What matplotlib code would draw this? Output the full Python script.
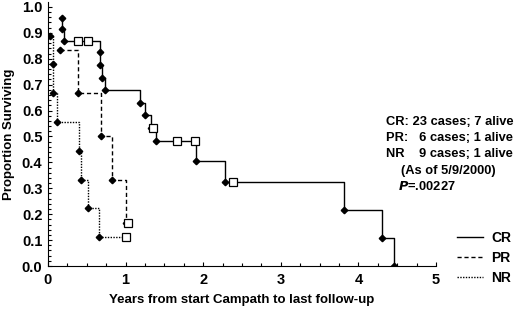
import numpy as np
import matplotlib
matplotlib.use("Agg")
import matplotlib.pyplot as plt
from matplotlib.ticker import MultipleLocator

plt.rcParams['font.family'] = ['Liberation Sans', 'DejaVu Sans']
plt.rcParams['font.weight'] = 'bold'

# Kaplan-Meier curves (event times / survival after event)
cr_t = [0.18, 0.18, 0.21, 0.67, 0.67, 0.70, 0.74, 1.19, 1.25, 1.33, 1.39, 1.91, 2.28, 3.82, 4.30, 4.46]
cr_s = [0.957, 0.913, 0.870, 0.825, 0.776, 0.727, 0.680, 0.631, 0.583, 0.534, 0.483, 0.405, 0.324, 0.216, 0.108, 0.0]
cr_cens_t = [0.39, 0.51, 1.35, 1.66, 1.89, 2.38]
cr_cens_s = [0.870, 0.870, 0.534, 0.483, 0.483, 0.324]

pr_t = [0.155, 0.39, 0.68, 0.83, 1.00]
pr_s = [0.833, 0.667, 0.500, 0.333, 0.167]
pr_cens_t = [1.035]
pr_cens_s = [0.167]

nr_t = [0.03, 0.07, 0.07, 0.11, 0.40, 0.42, 0.51, 0.66]
nr_s = [0.889, 0.778, 0.667, 0.556, 0.444, 0.333, 0.222, 0.111]
nr_cens_t = [1.00]
nr_cens_s = [0.111]

summary = ["CR: 23 cases; 7 alive", "PR:   6 cases; 1 alive", "NR    9 cases; 1 alive"]


def step_xy(t, s, end_t=None):
    xs, ys = [t[0]], [s[0]]
    for i in range(1, len(t)):
        xs += [t[i], t[i]]
        ys += [s[i - 1], s[i]]
    if end_t is not None:
        xs.append(end_t)
        ys.append(s[-1])
    return xs, ys


fig = plt.figure(figsize=(5.2, 3.1), dpi=100)
ax = fig.add_axes([48 / 520, 1 - 266 / 310, 388 / 520, 264 / 310])

styles = [
    (cr_t, cr_s, cr_cens_t, cr_cens_s, '-', 'CR'),
    (pr_t, pr_s, pr_cens_t, pr_cens_s, (0, (3, 2)), 'PR'),
    (nr_t, nr_s, nr_cens_t, nr_cens_s, (0, (1, 1)), 'NR'),
]
handles = []
for t, s, ct, cs, ls, lab in styles:
    end = max(ct) if ct else None
    if end is not None and end < t[-1]:
        end = None
    xs, ys = step_xy(t, s, end)
    h, = ax.plot(xs, ys, color='black', lw=1.0, linestyle=ls, label=lab)
    handles.append(h)
    ax.plot(t, s, linestyle='none', marker='D', ms=3.3, color='black')
    ax.plot(ct, cs, linestyle='none', marker='s', ms=5.5, mfc='white', mec='black', mew=0.9)

ax.set_xlim(0, 5)
ax.set_ylim(0, 1.019)
ax.set_yticks(np.arange(0, 1.01, 0.1))
ax.set_yticklabels([f"{v:.1f}" for v in np.arange(0, 1.01, 0.1)])
ax.xaxis.set_minor_locator(MultipleLocator(0.25))
ax.yaxis.set_minor_locator(MultipleLocator(0.02))
ax.tick_params(which='both', direction='in', labelsize=10.5, width=0.8)
ax.tick_params(which='major', length=3)
ax.tick_params(which='minor', length=2)
ax.tick_params(axis='x', pad=5)
ax.tick_params(axis='y', pad=4)
for side in ['top', 'right']:
    ax.spines[side].set_visible(False)

ax.set_xlabel("Years from start Campath to last follow-up", fontsize=9.5, fontweight='bold', labelpad=5)
ax.set_ylabel("Proportion Surviving", fontsize=9.5, fontweight='bold', labelpad=5)

for i, line in enumerate(summary):
    fig.text(386 / 520, 1 - (122 + 16 * i) / 310, line, fontsize=9.3, fontweight='bold', va='center', ha='left')
fig.text(448 / 520, 1 - 171 / 310, "(As of 5/9/2000)", fontsize=9.3, fontweight='bold', va='center', ha='center')
fig.text(398 / 520, 1 - 187 / 310, r"$\mathbf{\mathit{P}}$=.00227", fontsize=9.3, fontweight='bold', va='center', ha='left')

fig.legend(handles=handles, loc='upper left', bbox_to_anchor=(444 / 520, 1 - 218 / 310),
           frameon=False, fontsize=10, handlelength=1.9, labelspacing=0.45, handletextpad=0.6)

fig.savefig("out.png", dpi=100)
